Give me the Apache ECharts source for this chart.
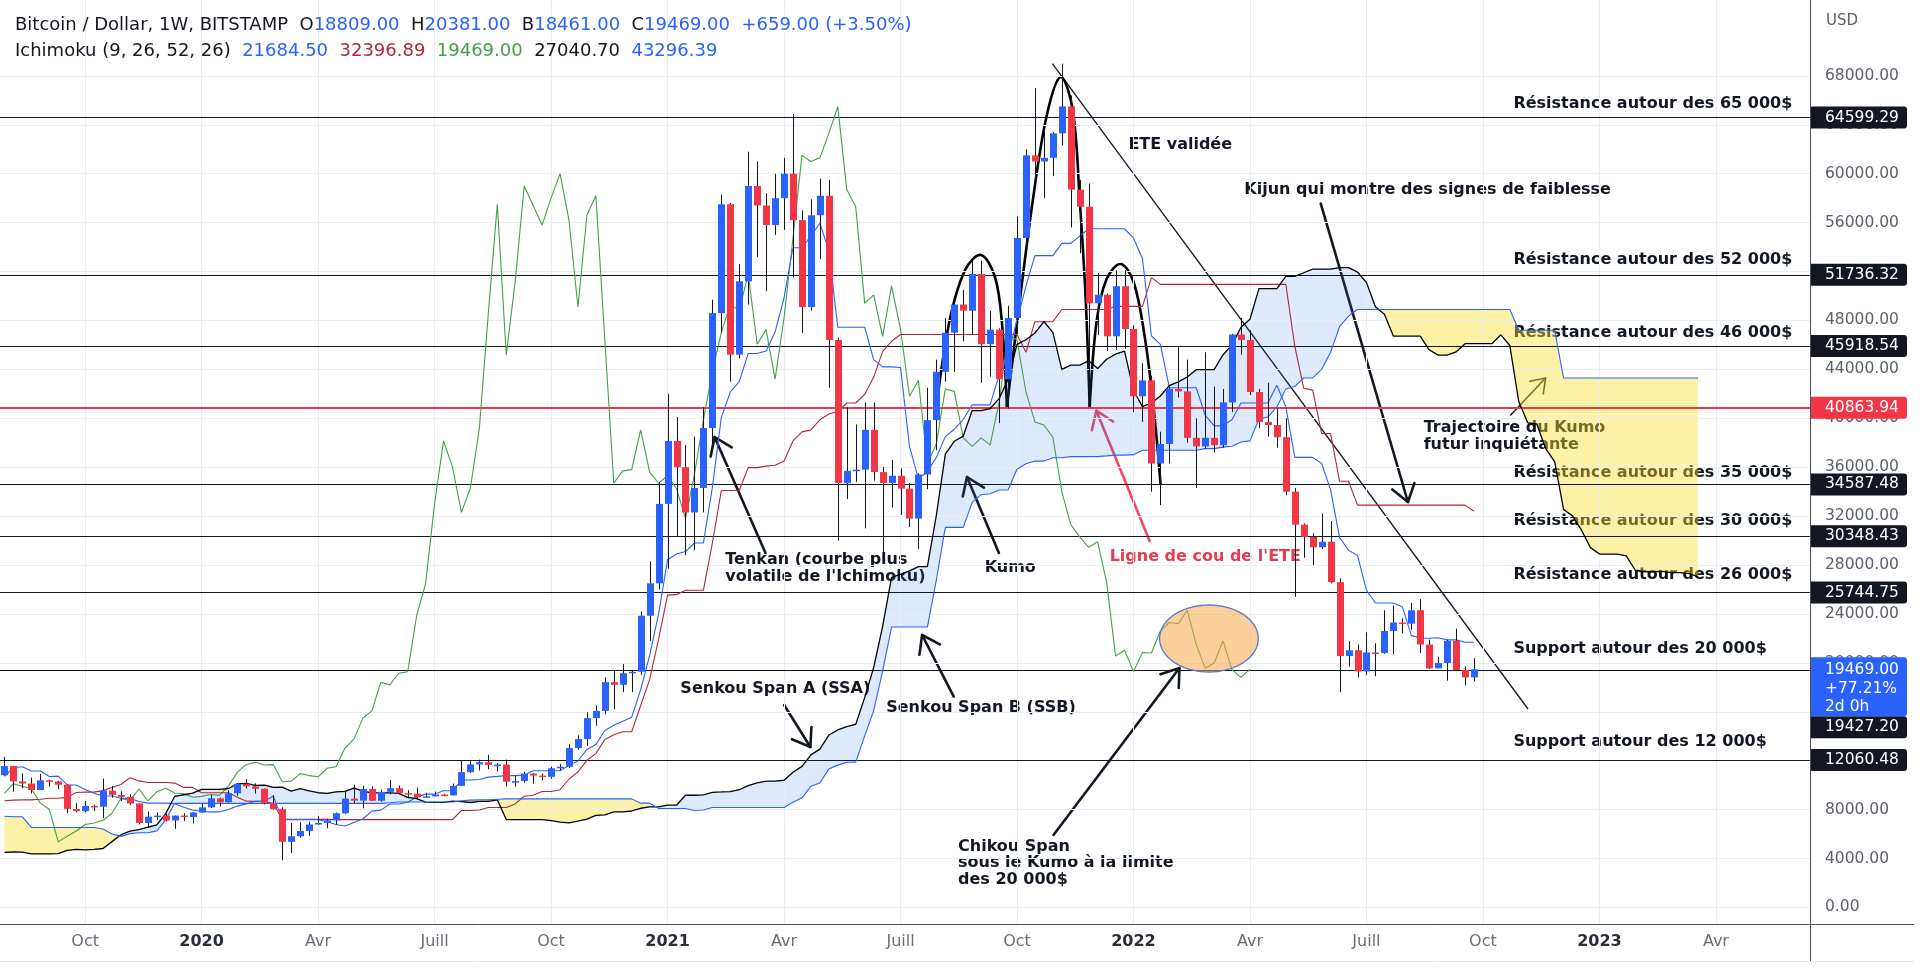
<!DOCTYPE html>
<html><head><meta charset="utf-8"><title>Bitcoin / Dollar Ichimoku</title>
<script src="https://cdn.jsdelivr.net/npm/echarts@6.0.0/dist/echarts.min.js"></script>
<style>html,body{margin:0;padding:0;background:#fff;overflow:hidden}#chart{width:1920px;height:967px}</style>
</head><body><div id="chart"></div>
<script>
// ---------------- DATA ----------------
const START_UTC = Date.UTC(2019, 7, 5);   // first weekly category (Mon 5 Aug 2019)
const N_WEEKS = 202;                      // weekly categories on the axis

// weekly candles from 5 Aug 2019 to 26 Sep 2022 (BITSTAMP)
const OPEN = [
10810,11560,10300,10130,9600,10390,10300,10030,8050,7870,
8300,8230,9550,9200,9040,8500,6900,7420,7510,7110,
7510,7390,7760,8180,8920,8600,9330,10120,9900,9700,
8530,8030,5360,5820,6250,6780,6900,7120,7700,8900,
8730,9680,8720,9450,9750,9350,9300,9010,9080,9230,
9160,9940,11060,11690,11870,11650,11680,10280,10330,10940,
10780,10680,11380,11500,13030,13760,15480,16070,18420,18200,
19150,19270,23850,26500,33000,38150,36000,32300,34300,39200,
48600,57500,45200,51200,59000,57400,55800,58000,60000,56200,
49100,56600,58200,46400,34700,35700,35800,39050,35600,34700,
35300,34250,31800,35400,39850,43800,47000,49300,48800,51800,
46060,47250,43200,48200,54750,61500,61000,61300,63300,65500,
58700,57300,49400,50100,46700,50800,47300,41800,43100,36300,
37900,42400,42200,38400,37700,38400,37800,41300,46850,46400,
42150,39700,39450,38450,34000,31300,30300,29450,29900,26600,
20550,21030,19300,20850,20800,22600,23300,23200,24300,21500,
19550,19990,21800,19420,18809];
const HIGH = [
12320,11580,10950,10620,10920,10450,10350,10070,8520,8700,
8400,10540,9940,9500,9250,8520,7850,7750,7650,7520,
7700,7800,8460,9200,8980,9570,10140,10500,10150,9720,
9180,8180,6900,6980,7000,7470,7250,7750,9460,10050,
9950,9900,9620,10430,9960,9590,9800,9370,9470,9290,
10130,12000,12000,12080,12480,11800,12090,10800,11100,10990,
10960,11500,11720,13350,14070,15960,16500,18800,19420,19900,
19420,24200,28300,34800,42000,40100,37800,38500,40900,49700,
58300,57600,52600,61800,61000,58400,60000,61300,64900,57000,
57900,59600,59500,46600,40900,39500,41300,41300,36000,36600,
35900,34700,35500,42500,44800,48200,49400,50500,52900,52900,
48800,47350,49200,56500,62000,67000,63700,63400,69000,66400,
59500,59200,51900,50200,52100,52100,47600,44500,43500,38900,
42600,45850,44800,40000,45400,42600,42400,46900,48200,47202,
42400,42900,40800,40000,34300,31400,30600,32200,31600,26900,
21800,21500,22500,21600,24300,24700,23650,24900,25211,21900,
20500,21900,22800,19700,20381];
const LOW = [
10780,9460,9750,9320,9580,9880,9670,7710,7760,7790,
7880,7300,8970,8700,8380,6790,6520,7150,7030,6430,
7050,6860,7730,8130,8260,8580,9130,9730,9300,8420,
8000,3850,4450,5700,5860,6750,6480,6760,7650,8530,
8100,8700,8650,9250,9230,8900,8830,8950,9080,9080,
9150,9930,11000,11200,11300,11120,9880,9880,10200,10130,
10380,10530,11220,11400,12880,13200,14850,15800,16200,17600,
17600,19000,21800,26000,27700,30300,28800,29200,32300,37900,
47000,43000,44900,49300,53200,50400,55000,55400,51500,47000,
48800,53000,42500,30000,33400,34800,31000,34900,28800,32700,
32100,31100,29300,34200,37400,43000,43800,46300,46800,42900,
43400,39600,40800,46900,53900,59500,58000,59800,62300,55600,
53500,42000,46800,45500,45600,45700,40500,39700,34000,32900,
36300,41700,38000,34300,37500,37200,37600,40500,45200,41900,
39200,38500,37600,33700,25400,28600,28000,29300,26500,17592,
19700,18800,19000,18900,20750,20700,22400,22700,20800,19500,
19550,18540,19320,18158,18461];
const CLOSE = [
11560,10300,10130,9600,10390,10300,10030,8050,7870,8300,
8230,9550,9200,9040,8500,6900,7420,7510,7110,7510,
7390,7760,8180,8920,8600,9330,10120,9900,9700,8530,
8030,5360,5820,6250,6780,6900,7120,7700,8900,8730,
9680,8720,9450,9750,9350,9300,9010,9080,9230,9160,
9940,11060,11690,11870,11650,11680,10280,10330,10940,10780,
10680,11380,11500,13030,13760,15480,16070,18420,18200,19150,
19270,23850,26500,33000,38150,36000,32300,34300,39200,48600,
57500,45200,51200,59000,57400,55800,58000,60000,56200,49100,
56600,58200,46400,34700,35700,35800,39050,35600,34700,35300,
34250,31800,35400,39850,43800,47000,49300,48800,51800,46060,
47250,43200,48200,54750,61500,61000,61300,63300,65500,58700,
57300,49400,50100,46700,50800,47300,41800,43100,36300,37900,
42400,42200,38400,37700,38400,37800,41300,46850,46400,42150,
39700,39450,38450,34000,31300,30300,29450,29900,26600,20550,
21030,19300,20850,20800,22600,23300,23200,24300,21500,19550,
19990,21800,19420,18810,19469];

// weekly highs / lows of the 76 weeks before the first category (19 Feb 2018 - 29 Jul 2019), needed by Ichimoku
const PRE_HIGH = [
11790,11530,11700,9950,9180,8500,7480,8250,9020,9750,9960,9700,8880,8500,7770,7780,6900,6840,6450,6780,
6800,7600,8480,8280,7150,6620,6800,7250,7410,6600,6800,6800,6680,6780,6850,6600,6500,6550,6450,5600,
4400,4200,3620,4250,4250,4000,
4100,3700,3620,3580,3700,3700,4200,3900,3950,4050,4100,4300,5300,5450,5400,5650,5900,7300,8350,8950,
9100,8800,9400,11200,13900,12000,13200,11100,10650,11000];
const PRE_LOW = [
9300,9400,8400,7300,8000,6450,6600,6650,7860,8650,8850,8350,7950,7250,7050,7400,6120,5850,5780,6300,
6070,6350,7380,6900,5960,5880,6250,6700,6100,6200,6250,6450,6500,6200,6300,6350,6250,6250,5200,3480,
3550,3300,3120,3220,3550,3650,
3500,3500,3500,3350,3350,3550,3650,3680,3690,3800,3950,3950,4100,4900,5000,4950,5200,5700,6200,7550,
8000,7450,7550,8950,10300,9700,10100,9100,9150,9400];

const ICHI = {tenkan: 9, kijun: 26, spanB: 52, shift: 26};

const Y_TICKS = [0,4000,8000,12000,16000,20000,24000,28000,32000,36000,40000,44000,48000,52000,56000,60000,64000,68000];
const LEVELS = [64599.29, 51736.32, 45918.54, 34587.48, 30348.43, 25744.75, 19427.20, 12060.48];
const NECKLINE = 40863.94;
const LAST_TAG = ['19469.00', '+77.21%', '2d 0h'];
const HEADER1 = [['Bitcoin / Dollar, 1W, BITSTAMP  ', 't'], ['O', 't'], ['18809.00  ', 'u'], ['H', 't'], ['20381.00  ', 'u'],
                 ['B', 't'], ['18461.00  ', 'u'], ['C', 't'], ['19469.00  ', 'u'], ['+659.00 (+3.50%)', 'u']];
const HEADER2 = [['Ichimoku (9, 26, 52, 26)  ', 't'], ['21684.50  ', 'u'], ['32396.89  ', 'r'], ['19469.00  ', 'g'],
                 ['27040.70  ', 'k'], ['43296.39', 'u']];
const MONTH_LABELS = {4: 'Avr', 7: 'Juill', 10: 'Oct'};

// annotations, in [week index, price] units
const TREND = [[116.95, 68998], [170.03, 16225]];
const ARROWS = [
  {from: [84.93, 28983], to: [79.25, 38469]},
  {from: [110.98, 28983], to: [107.42, 35198]},
  {from: [87.01, 16552], to: [89.94, 13117]},
  {from: [105.94, 17231], to: [102.41, 22277]},
  {from: [117.07, 5921], to: [131.13, 19578]},
  {from: [146.90, 57557], to: [156.63, 33153]}];
const RED_ARROW = {from: [127.80, 29964], to: [121.85, 40620]};
const TRAJ_ARROW = {from: [168.1, 40268], to: [171.99, 43294]};
const ETE_LEFT = [[103.86,40023],[105.42,47792],[107.20,52126],[108.98,53353],[110.54,51554],[111.32,47792],[111.87,40923]];
const ETE_HEAD = [[111.87,40923],[113.32,49673],[114.77,57851],[116.33,64802],[117.88,67910],[119.22,65211],[120.00,57851],[120.67,49673],[121.11,40923]];
const ETE_RIGHT = [[121.11,40923],[121.89,47956],[123.00,51390],[124.57,52617],[126.01,51145],[127.24,46729],[128.24,40923],[129.02,34625]];
const ELLIPSE = {center: [134.42, 21990], ru: 5.51, rp: 2740};
const NOTES = [
 [168.40, 65702, 'Résistance autour des 65 000$'],
 [125.43, 62382, 'ETE validée'],
 [138.37, 58669, 'Kijun qui montre des signes de faiblesse'],
 [168.40, 52944, 'Résistance autour des 52 000$'],
 [168.40, 46999, 'Résistance autour des 46 000$'],
 [158.38, 39205, 'Trajectoire du Kumo'],
 [158.38, 37815, 'futur inquiétante'],
 [168.40, 35525, 'Résistance autour des 35 000$'],
 [168.40, 31600, 'Résistance autour des 30 000$'],
 [80.44, 28410, 'Tenkan (courbe plus'],
 [80.44, 27020, "volatile de l'Ichimoku)"],
 [109.39, 27781, 'Kumo'],
 [168.40, 27183, 'Résistance autour des 26 000$'],
 [168.40, 21132, 'Support autour des 20 000$'],
 [75.43, 17861, 'Senkou Span A (SSA)'],
 [98.40, 16307, 'Senkou Span B (SSB)'],
 [168.40, 13551, 'Support autour des 12 000$'],
 [106.42, 4939, 'Chikou Span'],
 [106.42, 3631, 'sous le Kumo à la limite'],
 [106.42, 2241, 'des 20 000$']];
const RED_NOTE = [123.34, 28656, "Ligne de cou de l'ETE"];

// ---------------- STYLE ----------------
const UP = '#2962ff', DOWN = '#f23645', WICK = '#131722', INK = '#131722';
const FONT = '"DejaVu Sans", sans-serif';
const NOTE_FONT = 'bold 16px "DejaVu Sans", sans-serif';
const AXIS_X = 1810, AXIS_BOTTOM = 924;

// ---------------- PREP ----------------
const cats = [];
for (let i = 0; i < N_WEEKS; i++) cats.push(new Date(START_UTC + i * 7 * 86400000).toISOString().slice(0, 10));
function isLabelWeek(s) { const m = +s.slice(5, 7), d = +s.slice(8, 10); return d <= 7 && (m === 1 || m === 4 || m === 7 || m === 10); }
const labelWeeks = cats.filter(isLabelWeek);

const HH = PRE_HIGH.concat(HIGH), LL = PRE_LOW.concat(LOW), P = PRE_HIGH.length;
function mid(k, n) {
  if (k - n + 1 < 0 || k >= HH.length) return null;
  let hi = -Infinity, lo = Infinity;
  for (let t = k - n + 1; t <= k; t++) { hi = Math.max(hi, HH[t]); lo = Math.min(lo, LL[t]); }
  return (hi + lo) / 2;
}
const off = ICHI.shift - 1;
const tenkan = new Array(N_WEEKS).fill(null), kijun = new Array(N_WEEKS).fill(null);
const spanA = new Array(N_WEEKS).fill(null), spanB = new Array(N_WEEKS).fill(null), chikou = new Array(N_WEEKS).fill(null);
for (let i = 0; i < CLOSE.length; i++) { tenkan[i] = mid(i + P, ICHI.tenkan); kijun[i] = mid(i + P, ICHI.kijun); }
for (let j = 0; j < N_WEEKS; j++) {
  const k = j - off + P;
  const t = mid(k, ICHI.tenkan), kj = mid(k, ICHI.kijun), b = mid(k, ICHI.spanB);
  if (t != null && kj != null) spanA[j] = (t + kj) / 2;
  if (b != null) spanB[j] = b;
}
for (let i = off; i < CLOSE.length; i++) chikou[i - off] = CLOSE[i];

// cloud runs
const runs = [];
(function () {
  let cur = null;
  for (let j = 0; j < N_WEEKS; j++) {
    const a = spanA[j], b = spanB[j];
    if (a == null || b == null) { if (cur) { runs.push(cur); cur = null; } continue; }
    const d = a - b, s = d >= 0 ? 1 : -1;
    if (!cur) { cur = {s, a: [[j, a]], b: [[j, b]]}; continue; }
    if (s !== cur.s && d !== 0) {
      const dp = spanA[j - 1] - spanB[j - 1], t = dp / (dp - d);
      const x = j - 1 + t, y = spanA[j - 1] + t * (a - spanA[j - 1]);
      cur.a.push([x, y]); cur.b.push([x, y]); runs.push(cur);
      cur = {s, a: [[x, y], [j, a]], b: [[x, y], [j, b]]};
    } else { cur.a.push([j, a]); cur.b.push([j, b]); }
  }
  if (cur) runs.push(cur);
})();

const candleData = CLOSE.map((c, i) => [i, OPEN[i], HIGH[i], LOW[i], c]);

// ---------------- CHART ----------------
const chart = echarts.init(document.getElementById('chart'), null, {renderer: 'canvas'});

function arrowEls(api, a, color, width, head) {
  const p0 = api.coord(a.from), p1 = api.coord(a.to);
  const dx = p0[0] - p1[0], dy = p0[1] - p1[1], len = Math.hypot(dx, dy), ux = dx / len, uy = dy / len;
  const ang = 35 * Math.PI / 180, c = Math.cos(ang), s = Math.sin(ang);
  const w1 = [p1[0] + head * (ux * c - uy * s), p1[1] + head * (ux * s + uy * c)];
  const w2 = [p1[0] + head * (ux * c + uy * s), p1[1] + head * (-ux * s + uy * c)];
  return [
    {type: 'line', shape: {x1: p0[0], y1: p0[1], x2: p1[0], y2: p1[1]}, style: {stroke: color, lineWidth: width, lineCap: 'round'}},
    {type: 'polyline', shape: {points: [w1, p1, w2]}, style: {stroke: color, lineWidth: width, fill: 'none', lineCap: 'round', lineJoin: 'round'}}];
}

const lineSeries = (name, data, color, width, z) => ({
  name, type: 'line', data, symbol: 'none', showSymbol: false, silent: true, z,
  lineStyle: {color, width}, itemStyle: {color}, connectNulls: false, animation: false});

const option = {
  animation: false,
  backgroundColor: '#ffffff',
  grid: {left: -4.3, right: 1920 - AXIS_X, top: 0, bottom: 967 - AXIS_BOTTOM, containLabel: false},
  xAxis: [
    {type: 'category', data: cats, boundaryGap: true,
     axisLine: {show: false}, axisTick: {show: false}, splitLine: {show: false},
     axisLabel: {interval: (idx, v) => isLabelWeek(v), margin: 10, color: '#6a6d78', fontFamily: FONT, fontSize: 16,
       formatter: v => { const m = +v.slice(5, 7); return m === 1 ? '{y|' + v.slice(0, 4) + '}' : MONTH_LABELS[m]; },
       rich: {y: {fontWeight: 'bold', color: '#2a2e39', fontFamily: FONT, fontSize: 16}}}},
    {type: 'value', min: -0.5, max: N_WEEKS - 0.5, show: false}],
  yAxis: {type: 'value', position: 'right', min: -(AXIS_BOTTOM - 907.4) / 0.012228, max: 907.4 / 0.012228, scale: true,
    axisLine: {show: false}, axisTick: {show: false}, splitLine: {show: false},
    axisLabel: {customValues: Y_TICKS, formatter: v => v.toFixed(2), margin: 15, color: '#5d606b', fontFamily: FONT, fontSize: 15.5}},
  series: [
    {name: 'grid', type: 'line', data: [], silent: true, z: 1,
     markLine: {silent: true, symbol: ['none', 'none'], label: {show: false}, animation: false,
       lineStyle: {color: '#e9edf4', width: 1, type: 'solid'},
       data: Y_TICKS.map(v => ({yAxis: v})).concat(labelWeeks.map(d => ({xAxis: d})))}},
    {name: 'levels', type: 'line', data: [], silent: true, z: 2,
     markLine: {silent: true, symbol: ['none', 'none'], label: {show: false}, animation: false,
       data: LEVELS.map(v => ({yAxis: v, lineStyle: {color: INK, width: 1.2, type: 'solid'}}))
             .concat([{yAxis: NECKLINE, lineStyle: {color: '#f23645', width: 2.2, type: 'solid'}}])}},
    {name: 'annotations', type: 'custom', xAxisIndex: 1, yAxisIndex: 0, data: [[0]], silent: true, z: 3,
     renderItem: (params, api) => {
       const ch = [];
       const t0 = api.coord(TREND[0]), t1 = api.coord(TREND[1]);
       ch.push({type: 'line', shape: {x1: t0[0], y1: t0[1], x2: t1[0], y2: t1[1]}, style: {stroke: INK, lineWidth: 1.3}});
       [ETE_LEFT, ETE_HEAD, ETE_RIGHT].forEach(pts => ch.push({type: 'polyline',
         shape: {points: pts.map(p => api.coord(p)), smooth: 0.35},
         style: {stroke: '#000', lineWidth: 2.6, fill: 'none', lineCap: 'round', lineJoin: 'round'}}));
       ARROWS.forEach(a => ch.push(...arrowEls(api, a, INK, 2.6, 20)));
       ch.push(...arrowEls(api, RED_ARROW, '#ea4c60', 2.6, 20));
       ch.push(...arrowEls(api, TRAJ_ARROW, '#222', 1.6, 16));
       NOTES.forEach(n => { const p = api.coord([n[0], n[1]]);
         ch.push({type: 'text', style: {text: n[2], x: p[0], y: p[1], fill: INK, font: NOTE_FONT, align: 'left', verticalAlign: 'middle'}}); });
       const rp = api.coord([RED_NOTE[0], RED_NOTE[1]]);
       ch.push({type: 'text', style: {text: RED_NOTE[2], x: rp[0], y: rp[1], fill: '#e83a50', font: NOTE_FONT, align: 'left', verticalAlign: 'middle'}});
       return {type: 'group', children: ch};
     }},
    {name: 'kumo', type: 'custom', xAxisIndex: 1, yAxisIndex: 0, data: [[0]], silent: true, z: 4,
     renderItem: (params, api) => ({type: 'group', children: runs.map(r => ({type: 'polygon',
       shape: {points: r.a.concat(r.b.slice().reverse()).map(p => api.coord(p))},
       style: {fill: r.s > 0 ? 'rgba(41,121,235,0.16)' : 'rgba(250,222,40,0.42)', stroke: 'none'}}))})},
    lineSeries('Chikou', chikou, '#43a047', 1.1, 5),
    lineSeries('Kijun', kijun, '#b2283a', 1.1, 5),
    lineSeries('Tenkan', tenkan, '#2962ff', 1.1, 5),
    lineSeries('Senkou A', spanA, '#000000', 1.3, 5),
    lineSeries('Senkou B', spanB, '#2962ff', 1.1, 5),
    {name: 'BTC', type: 'custom', xAxisIndex: 0, yAxisIndex: 0, data: candleData, silent: true, z: 6,
     encode: {x: 0, y: [1, 2, 3, 4]},
     renderItem: (params, api) => {
       const i = api.value(0), o = api.value(1), h = api.value(2), l = api.value(3), c = api.value(4);
       const xc = Math.round(api.coord([i, o])[0]);
       const yO = api.coord([i, o])[1], yC = api.coord([i, c])[1], yH = api.coord([i, h])[1], yL = api.coord([i, l])[1];
       const bw = 7, top = Math.min(yO, yC), hh = Math.max(1.5, Math.abs(yO - yC));
       return {type: 'group', children: [
         {type: 'line', shape: {x1: xc + 0.5, y1: yH, x2: xc + 0.5, y2: yL}, style: {stroke: WICK, lineWidth: 1}},
         {type: 'rect', shape: {x: xc - 3, y: top, width: bw, height: hh}, style: {fill: c >= o ? UP : DOWN}}]};
     }},
    {name: 'ellipse', type: 'custom', xAxisIndex: 1, yAxisIndex: 0, data: [[0]], silent: true, z: 7,
     renderItem: (params, api) => {
       const pts = [];
       for (let k = 0; k < 72; k++) { const t = k / 72 * 2 * Math.PI;
         pts.push(api.coord([ELLIPSE.center[0] + ELLIPSE.ru * Math.cos(t), ELLIPSE.center[1] + ELLIPSE.rp * Math.sin(t)])); }
       return {type: 'polygon', shape: {points: pts}, style: {fill: 'rgba(246,168,74,0.55)', stroke: '#5b78d0', lineWidth: 1.3}};
     }}
  ]
};
chart.setOption(option);

// ---------------- PRICE TAGS / HEADER ----------------
const yPx = v => chart.convertToPixel({yAxisIndex: 0}, v);
const els = [];
els.push({type: 'line', shape: {x1: AXIS_X + 0.5, y1: 0, x2: AXIS_X + 0.5, y2: 961}, style: {stroke: '#50535e', lineWidth: 1}, z: 50});
els.push({type: 'line', shape: {x1: 0, y1: AXIS_BOTTOM + 0.5, x2: 1914, y2: AXIS_BOTTOM + 0.5}, style: {stroke: '#50535e', lineWidth: 1}, z: 50});
els.push({type: 'line', shape: {x1: 0, y1: 961.5, x2: 1914, y2: 961.5}, style: {stroke: '#e4e7ee', lineWidth: 1}, z: 50});
els.push({type: 'text', style: {text: 'USD', x: 1826, y: 21, fill: '#5d606b', font: '15px ' + FONT, verticalAlign: 'middle'}, z: 60});
function tag(y, text, fill) {
  els.push({type: 'rect', shape: {x: AXIS_X + 1, y: y - 11, width: 96, height: 22, r: [0, 3, 3, 0]}, style: {fill}, z: 70});
  els.push({type: 'text', style: {text, x: 1825, y, fill: '#ffffff', font: '15.5px ' + FONT, verticalAlign: 'middle'}, z: 71});
}
LEVELS.slice(0, 6).forEach(v => tag(yPx(v), v.toFixed(2), '#131722'));
tag(yPx(NECKLINE), NECKLINE.toFixed(2), '#f23645');
tag(yPx(LEVELS[7]), LEVELS[7].toFixed(2), '#131722');
// current price tag (3 lines) and the level just below it
const yLast = yPx(parseFloat(LAST_TAG[0]));
els.push({type: 'rect', shape: {x: AXIS_X + 1, y: yLast - 12, width: 96, height: 59, r: [0, 3, 3, 0]}, style: {fill: '#2962ff'}, z: 72});
LAST_TAG.forEach((t, k) => els.push({type: 'text', style: {text: t, x: 1825, y: yLast + 1 + k * 18.5, fill: '#ffffff', font: '15.5px ' + FONT, verticalAlign: 'middle'}, z: 73}));
tag(yLast - 12 + 59 + 11, LEVELS[6].toFixed(2), '#131722');

const HCOL = {t: '#131722', u: '#2962ff', r: '#b2283a', g: '#43a047', k: '#131722'};
const rich = {};
Object.keys(HCOL).forEach(k => rich[k] = {fill: HCOL[k], color: HCOL[k], font: '18px ' + FONT, fontFamily: FONT, fontSize: 18});
const rt = segs => segs.map(s => '{' + s[1] + '|' + s[0] + '}').join('');
els.push({type: 'text', style: {text: rt(HEADER1), rich, x: 15, y: 25, verticalAlign: 'middle', font: '18px ' + FONT}, z: 81});
els.push({type: 'text', style: {text: rt(HEADER2), rich, x: 15, y: 51, verticalAlign: 'middle', font: '18px ' + FONT}, z: 81});
chart.setOption({graphic: {elements: els}});
</script></body></html>
